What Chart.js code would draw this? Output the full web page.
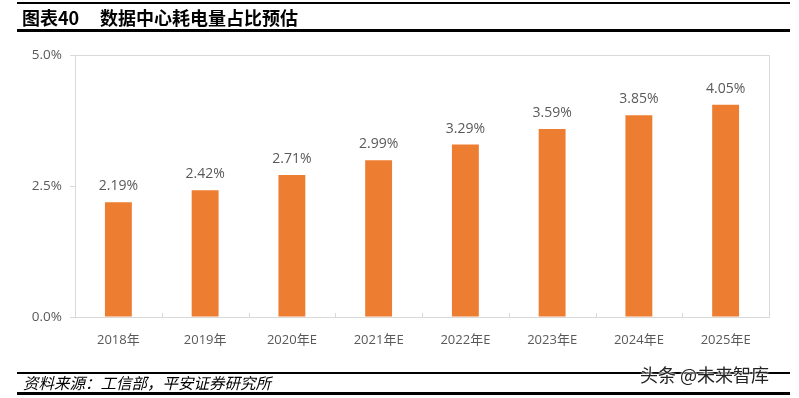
<!DOCTYPE html>
<html>
<head>
<meta charset="utf-8">
<script src="https://cdn.jsdelivr.net/npm/chart.js@4/dist/chart.umd.min.js"></script>
<style>
  html, body { margin: 0; padding: 0; background: #fff; }
  #wrap { position: relative; width: 799px; height: 398px; overflow: hidden; background: #fff; }
  #chart { position: absolute; left: 0; top: 0; }
  .line { position: absolute; background: #000; }
  .txt { position: absolute; white-space: nowrap; font-family: "Noto Sans CJK SC", "Noto Sans", sans-serif; }
</style>
</head>
<body>
<div id="wrap">
  <canvas id="chart" width="799" height="398"></canvas>
  <div class="line" style="left:17px; top:2px; width:773px; height:2px;"></div>
  <div class="txt" style="left:22px; top:5px; font-size:18px; font-weight:bold; line-height:24px; color:#000;">图表40</div>
  <div class="txt" style="left:100px; top:5px; font-size:18px; font-weight:bold; line-height:24px; color:#000;">数据中心耗电量占比预估</div>
  <div class="line" style="left:17px; top:29px; width:773px; height:2.5px;"></div>

  <div class="line" style="left:17px; top:372px; width:773px; height:1.5px;"></div>
  <div class="txt" style="left:23px; top:372px; font-size:15.5px; font-style:italic; line-height:20px; color:#000;">资料来源：工信部，平安证券研究所</div>
  <div class="line" style="left:17px; top:392px; width:773px; height:2.5px;"></div>
  <div class="txt" style="left:640px; top:362px; font-size:18px; line-height:24px; color:#222; text-shadow: 0 0 2px #fff, 0 0 2px #fff, 0 0 3px #fff;">头条 @未来智库</div>
</div>
<script>
const categories = ["2018年", "2019年", "2020年E", "2021年E", "2022年E", "2023年E", "2024年E", "2025年E"];
const shareValues = [2.19, 2.42, 2.71, 2.99, 3.29, 3.59, 3.85, 4.05];
const yTickValues = [0, 2.5, 5.0];

const frame = {
  id: 'frame',
  beforeDatasetsDraw(chart) {
    const { ctx, chartArea: a } = chart;
    ctx.save();
    ctx.strokeStyle = '#d9d9d9';
    ctx.lineWidth = 1;
    ctx.strokeRect(Math.round(a.left) + 0.5, Math.round(a.top) + 0.5, Math.round(a.right - a.left), Math.round(a.bottom - a.top));
    const n = categories.length;
    const w = (a.right - a.left) / n;
    ctx.beginPath();
    for (let i = 1; i < n; i++) {
      const xx = Math.round(a.left + w * i) + 0.5;
      ctx.moveTo(xx, a.bottom);
      ctx.lineTo(xx, a.bottom - 4);
    }
    ctx.stroke();
    ctx.restore();
  },
  afterDatasetsDraw(chart) {
    const { ctx } = chart;
    const meta = chart.getDatasetMeta(0);
    ctx.save();
    ctx.fillStyle = '#595959';
    ctx.font = '14px "Open Sans", "Noto Sans", sans-serif';
    ctx.textAlign = 'center';
    ctx.textBaseline = 'middle';
    meta.data.forEach((bar, i) => {
      ctx.fillText(shareValues[i].toFixed(2) + '%', bar.x, bar.y - 16);
    });
    ctx.restore();
  }
};

new Chart(document.getElementById('chart'), {
  type: 'bar',
  data: {
    labels: categories,
    datasets: [{
      data: shareValues,
      backgroundColor: '#ED7D31',
      borderWidth: 0,
      categoryPercentage: 1.0,
      barPercentage: 0.31
    }]
  },
  options: {
    responsive: false,
    animation: false,
    devicePixelRatio: 1,
    layout: { padding: { top: 55, right: 30, left: 0, bottom: 0 } },
    plugins: { legend: { display: false }, tooltip: { enabled: false } },
    scales: {
      x: {
        grid: { display: false, drawTicks: false },
        border: { display: false },
        ticks: {
          color: '#595959',
          font: { family: '"Open Sans", "Noto Sans CJK SC", sans-serif', size: 13 },
          padding: 15,
          maxRotation: 0
        },
        afterFit(scale) { scale.height = 81; }
      },
      y: {
        min: 0,
        max: 5,
        afterBuildTicks(scale) { scale.ticks = yTickValues.map(v => ({ value: v })); },
        grid: { drawOnChartArea: false, color: '#d9d9d9', tickLength: 5 },
        border: { display: false },
        ticks: {
          color: '#595959',
          font: { family: '"Open Sans", "Noto Sans", sans-serif', size: 13.5 },
          padding: 8,
          callback: v => Number(v).toFixed(1) + '%'
        },
        afterFit(scale) { scale.width = 75; }
      }
    }
  },
  plugins: [frame]
});
</script>
</body>
</html>
